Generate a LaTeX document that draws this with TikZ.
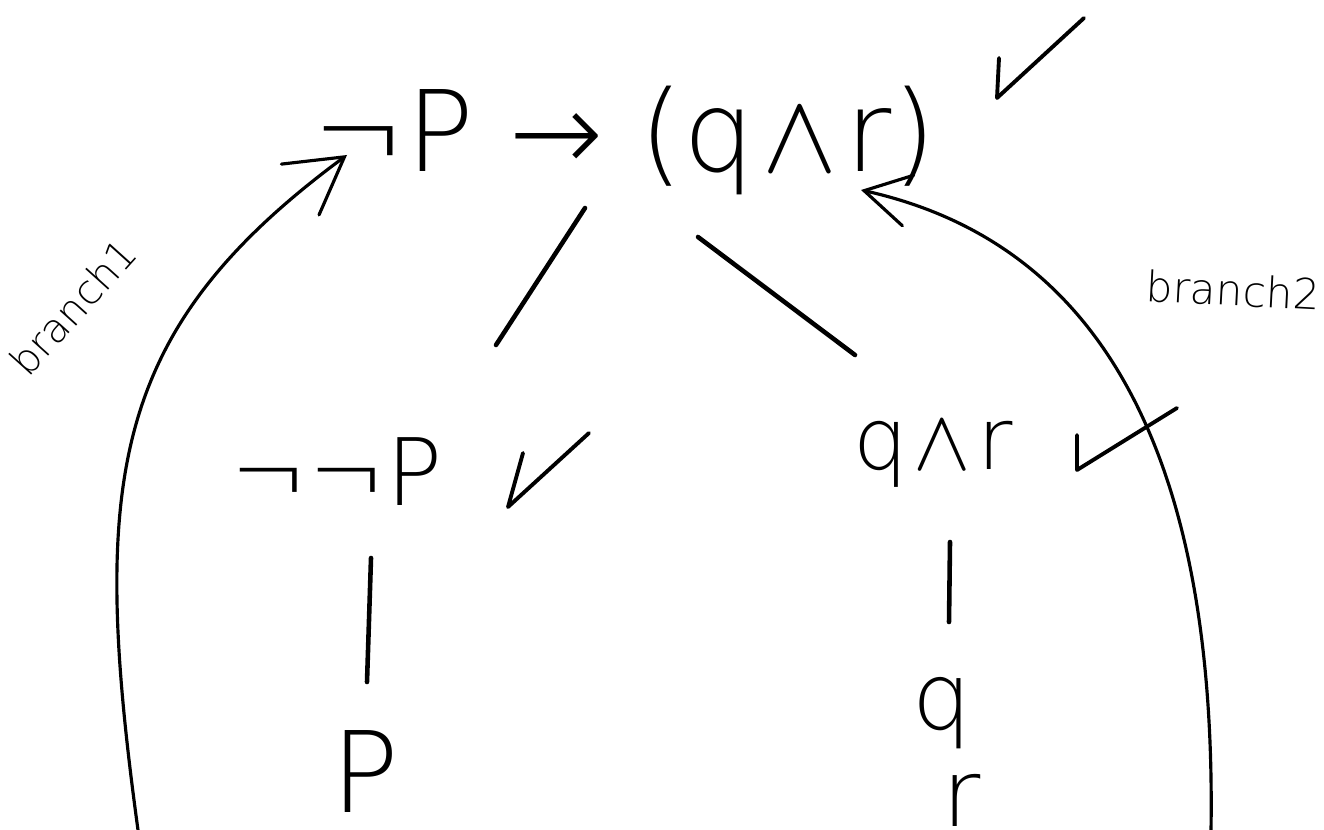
\documentclass[tikz,border=0pt]{standalone}
\usepackage{fix-cm}
\usepackage{fontspec}
\setmainfont{DejaVu Sans}
\newfontfamily\hand{DejaVu Sans ExtraLight}
\newcommand{\conj}{\hspace{0.07em}$\wedge$\hspace{0.07em}}
\usetikzlibrary{arrows.meta}

\begin{document}
\begin{tikzpicture}[x=0.02cm,y=-0.02cm,
  formula/.style={inner sep=0pt, anchor=base, font=\hand\fontsize{#1}{#1}\selectfont},
  note/.style={inner sep=0pt, font=\hand\fontsize{#1}{#1}\selectfont},
  edge/.style={line width=2.6pt, line cap=round},
  link/.style={line width=1.8pt, line cap=round,
    -{Straight Barb[length=#1, width=1.15*#1, line cap=round]}},
  tick/.style={line width=2.2pt, line cap=round, line join=round}]
\useasboundingbox (0,0) rectangle (1324,830);

% tableau formulas
\node[formula=64] (top) at (624,172) {¬P → (q\conj r)};
\node[formula=53] (nnp) at (337,505) {¬¬P};
\node[formula=49] (qr)  at (933,470) {q\conj r};
\node[formula=64] (pb)  at (365,812) {P};
\node[formula=53] (qb)  at (942,729) {q};
\node[formula=53] (rb)  at (962,826) {r};

% branch names
\node[note=23, rotate=48] (b1) at (73,307) {branch1};
\node[note=24, rotate=-3] (b2) at (1233,290) {branch2};

% tree edges
\draw[edge] ([shift={(-39,36)}]top.base) -- ([shift={(159,-160)}]nnp.base);
\draw[edge] ([shift={(74,65)}]top.base) -- ([shift={(-78,-115)}]qr.base);
\draw[edge] ([shift={(34,53)}]nnp.base) -- ([shift={(2,-130)}]pb.base);
\draw[edge] ([shift={(17,72)}]qr.base) -- ([shift={(7,-107)}]qb.base);

% branch arrows back to the root
\coordinate (s1) at (138,830);
\coordinate (s2) at (1211,830);
\draw[link=1.1cm] (s1) .. controls (90,480) and (110,330) .. ([shift={(-277,-17)}]top.base);
\draw[link=0.9cm] (s2) .. controls (1218,370) and (1040,230) .. ([shift={(237,18)}]top.base);

% ticks for used formulas
\draw[tick] (999,58) -- (997,98) -- (1084,18);
\draw[tick] (523,453) -- (508,507) -- (589,433);
\draw[tick] (1077,435) -- (1077,470) -- (1177,408);
\end{tikzpicture}
\end{document}
